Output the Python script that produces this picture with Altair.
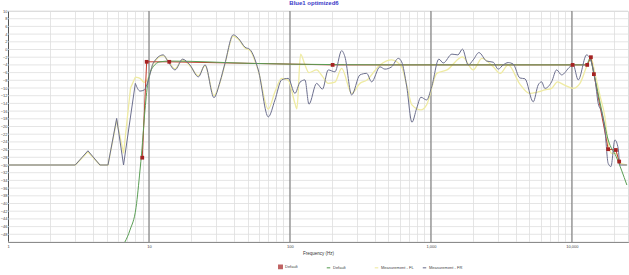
import altair as alt
import pandas as pd

# ---- data ----
fr_freq = [1, 3, 3.69, 4.49, 5.12, 5.9, 6.6, 8.0, 8.64, 9.26, 10.05, 10.7, 12.6, 13.7, 15.3, 17.3,
           19.5, 22.4, 25.0, 28.9, 31.9, 34.6, 39.6, 43.0, 48.0, 52.0, 59.6, 70.2, 78.3, 87.3, 97.3,
           108.5, 117.8, 127.8, 136.4, 154.6, 170.1, 186.9, 208.5, 232.6, 245.5, 273.9, 313.7, 350,
           379.7, 434.8, 471.8, 526.3, 586.5, 619.8, 672.6, 733.4, 791.8, 849.6, 932.2, 1012, 1139,
           1223, 1409, 1554, 1673, 1839, 1995, 2190, 2483, 2766, 3001, 3256, 3534, 3834, 4278, 4642,
           5316, 5768, 6097, 6434, 7178, 7789, 8453, 9679, 10213, 11085, 12716, 13420, 14563, 15369,
           16239, 17140, 18089, 18911, 20183, 21302, 21898, 24547]
fr_db = [-30, -30, -26.3, -30, -30, -17.9, -30, -8.8, -10.8, -10.5, -7.1, -3.6, -1.4, -3.2, -5.3, -2.5,
         -4.0, -7.1, -4.0, -12.5, -8.4, -3.6, 3.8, 2.9, 0.6, 0.0, -5.3, -17.5, -13.1, -7.9, -7.5,
         -11.4, -8.5, -7.9, -14.2, -8.8, -10.3, -5.3, -5.8, -0.3, -1.9, -11.8, -6.6, -6.2,
         -8.4, -4.5, -5.1, -4.5, -2.3, -3.2, -9.5, -18.9, -15.3, -12.4, -13.1, -9.7, -2.5,
         -3.5, -1.2, -1.4, 0.1, -4.0, -2.7, -0.8, -3.0, -3.3, -5.1, -4.0, -3.4, -3.8, -7.4, -7.6,
         -13.6, -9.2, -8.4, -10.1, -8.4, -5.3, -6.6, -4.5, -4.0, -7.9, -1.4, -2.3, -7.5, -14.0,
         -16.2, -20.9, -29.6, -30.4, -23.5, -25.7, -30, -30]

fl_freq = [1, 3, 3.69, 4.49, 5.12, 5.9, 6.6, 7.4, 8.0, 8.64, 9.26, 10.05, 10.7, 12.6, 13.7, 15.3, 17.3,
           19.5, 22.4, 25.0, 28.9, 31.9, 34.6, 39.6, 43.0, 48.0, 52.0, 59.6, 70.2, 78.3, 87.3, 97.3,
           108.5, 112, 119, 127.8, 136.4, 154.6, 170.1, 186.9, 208.5, 232.6, 273.9, 313.7, 350, 434.8,
           526.3, 619.8, 672.6, 733.4, 849.6, 932.2, 1100, 1300, 1673, 1995, 2300, 2766, 3100, 3534,
           4278, 5000, 5768, 6434, 7178, 7900, 8800, 10213, 11400, 12716, 13700, 14563, 15900, 17140,
           18089, 19200, 20600, 21898, 24547]
fl_db = [-30, -30, -26.6, -30, -30, -18.4, -27, -10, -7.2, -7.5, -8.5, -6.8, -3.8, -1.6, -3.0, -5.0, -2.7,
         -4.2, -6.8, -4.2, -12.0, -8.6, -3.8, 3.5, 2.7, 0.4, -0.2, -5.5, -15.5, -11.0, -7.5, -8.0,
         -14.0, -15.4, -1.2, -4.0, -6.0, -5.3, -7.0, -8.8, -8.5, -4.9, -11.4, -8.8, -8.0, -4.0,
         -2.7, -4.5, -9.2, -14.4, -15.7, -14.4, -6.2, -5.3, -1.9, -5.3, -2.3, -4.5, -6.2, -4.0,
         -9.0, -11.4, -11.0, -10.5, -10.1, -8.4, -9.2, -10.1, -8.8, -4.5, -2.3, -6.2, -12.3, -17.5,
         -24.4, -27.0, -27.0, -29.5, -30.0]

target_freq = [6.2, 7.33, 8.1, 8.64, 8.87, 9.37, 9.89, 10.7, 11.97, 14.1, 52, 100, 600, 10213,
               12716, 13420, 14322, 16239, 18089, 20600, 24547]
target_db = [-52, -46.9, -41.0, -31.3, -26.9, -15.7, -7.9, -4.5, -3.2, -3.0, -3.6, -3.8, -4.0, -4.0,
             -4.0, -2.3, -6.4, -15.7, -23.5, -27.8, -35.2]

default_freq = [8.96, 9.63, 13.93, 200.8, 10115, 12840, 13640, 14322, 18089, 20510, 21650]
default_db = [-28.1, -3.2, -3.2, -4.0, -4.0, -4.0, -2.0, -6.4, -25.9, -26.1, -29.1]

x_grid = [m * 10 ** e for e in range(0, 5) for m in range(1, 10) if m * 10 ** e <= 25000]
decades = [10, 100, 1000, 10000]
y_ticks = list(range(-48, 11, 2))
y_grid = list(range(-50, 11, 2))

legend_keys = ["Default-pts", "Default-line", "Measurement - FL", "Measurement - FR"]
legend_colors = ["#a52222", "#5a9e55", "#eeeaa0", "#6c6f8e"]
legend_shapes = ["square", "stroke", "stroke", "stroke"]

FONT = "Liberation Sans"
LOW_SPLIT = 8.0

xscale = alt.Scale(type="log", domain=[1, 25000], nice=False)
yscale = alt.Scale(domain=[-50, 10], nice=False, zero=False)

x_axis = alt.Axis(values=x_grid, grid=True, gridColor="#dedede", gridWidth=0.8,
                  labelExpr="indexof([1,10,100,1000,10000], datum.value) >= 0 ? format(datum.value, ',') : ''",
                  labelFontSize=4, labelFont=FONT, labelColor="#444", labelPadding=2,
                  ticks=False, domainColor="#555", domainWidth=1,
                  title="Frequency (Hz)", titleFontSize=4.5, titleFont=FONT,
                  titleFontWeight="normal", titleColor="#333", titlePadding=2, labelFlush=False)
y_axis = alt.Axis(values=y_ticks, grid=False, labelFontSize=4, labelFont=FONT,
                  labelColor="#444", labelPadding=1, ticks=False, domainColor="#555",
                  domainWidth=1, title=None)

X = lambda f: alt.X(f, type="quantitative", scale=xscale, axis=x_axis)
Y = lambda f: alt.Y(f, type="quantitative", scale=yscale, axis=y_axis)

ygrid_df = pd.DataFrame({"db": y_grid})
ygrid = alt.Chart(ygrid_df).mark_rule(color="#dedede", strokeWidth=0.8).encode(y=Y("db"))

dec_df = pd.DataFrame({"f": decades})
dec = alt.Chart(dec_df).mark_rule(color="#707070", strokeWidth=1).encode(x=X("f"))

fl_df = pd.DataFrame({"f": fl_freq, "db": fl_db})
fr_df = pd.DataFrame({"f": fr_freq, "db": fr_db})
tg_df = pd.DataFrame({"f": target_freq, "db": target_db})
df_df = pd.DataFrame({"f": default_freq, "db": default_db})

fl_low = alt.Chart(fl_df).transform_filter(f"datum.f <= {LOW_SPLIT}").mark_line(
    color="#efeba2", strokeWidth=1.3, clip=True).encode(x=X("f"), y=Y("db"))
fl_high = alt.Chart(fl_df).transform_filter(f"datum.f >= {LOW_SPLIT}").mark_line(
    color="#efeba2", strokeWidth=1.3, interpolate="monotone", clip=True).encode(x=X("f"), y=Y("db"))
fr_low = alt.Chart(fr_df).transform_filter(f"datum.f <= {LOW_SPLIT}").mark_line(
    color="#6c6f8e", strokeWidth=1, clip=True).encode(x=X("f"), y=Y("db"))
fr_high = alt.Chart(fr_df).transform_filter(f"datum.f >= {LOW_SPLIT}").mark_line(
    color="#6c6f8e", strokeWidth=1, interpolate="monotone", clip=True).encode(x=X("f"), y=Y("db"))
red_line = alt.Chart(df_df).mark_line(color="#c23a2a", strokeWidth=1, clip=True).encode(
    x=X("f"), y=Y("db"))
tg = alt.Chart(tg_df).mark_line(color="#5a9e55", strokeWidth=1, interpolate="monotone", clip=True).encode(
    x=X("f"), y=Y("db"))
red_pts = alt.Chart(df_df).mark_square(color="#a52222", size=14, opacity=1, clip=True).encode(
    x=X("f"), y=Y("db"))

# legend-only layer (points placed outside the visible domain and clipped)
leg_df = pd.DataFrame({"series": legend_keys, "f": [1] * 4, "db": [-100] * 4})
label_expr = "datum.value == 'Default-pts' || datum.value == 'Default-line' ? 'Default' : datum.value"
leg_props = dict(title=None, orient="none", legendX=270, legendY=253, direction="horizontal",
                 columns=4, gridAlign="all", columnPadding=4, labelFontSize=4, labelFont=FONT,
                 labelColor="#444", symbolSize=12, symbolStrokeWidth=1.5, labelOffset=2,
                 labelExpr=label_expr)
leg = alt.Chart(leg_df).mark_point(filled=True, strokeWidth=1.5, clip=True).encode(
    x=X("f"), y=Y("db"),
    color=alt.Color("series:N", scale=alt.Scale(domain=legend_keys, range=legend_colors),
                    legend=alt.Legend(**leg_props)),
    stroke=alt.Stroke("series:N", scale=alt.Scale(domain=legend_keys, range=legend_colors),
                      legend=alt.Legend(**leg_props)),
    shape=alt.Shape("series:N", scale=alt.Scale(domain=legend_keys, range=legend_shapes),
                    legend=alt.Legend(**leg_props)),
)

chart = alt.layer(ygrid, dec, fl_low, fl_high, red_line, tg, fr_low, fr_high, red_pts, leg).properties(
    width=620, height=231,
    padding={"left": 8, "top": 11, "right": 1, "bottom": 33},
    autosize=alt.AutoSizeParams(type="none"),
    title=alt.TitleParams("Blue1 optimized6", fontSize=6, font=FONT, fontWeight="bold",
                          color="#3a3ac8", anchor="middle", offset=3, dx=-4),
).configure_view(stroke=None).configure(background="white")

chart.save("out.html", embed_options={"renderer": "svg", "actions": False})
